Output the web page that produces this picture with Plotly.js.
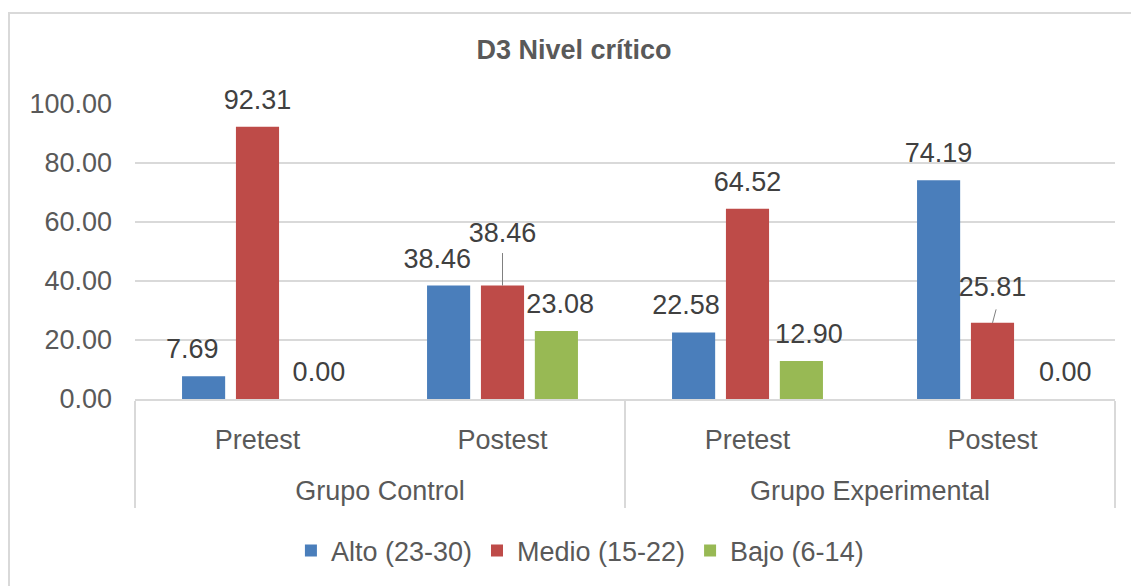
<!DOCTYPE html>
<html>
<head>
<meta charset="utf-8">
<script src="https://cdn.plot.ly/plotly-3.0.1.min.js"></script>
<style>
  html, body { margin: 0; padding: 0; width: 1131px; height: 586px; overflow: hidden; background: #fff; }
  #chart { position: absolute; left: 0; top: 0; width: 1131px; height: 586px; }
  #frame { position: absolute; left: 8px; top: 12px; width: 2000px; height: 2000px; border: 2px solid #d9d9d9; pointer-events: none; }
</style>
</head>
<body>
<div id="chart"></div>
<div id="frame"></div>
<script>
// ---- data ----
const groups = ['Grupo Control', 'Grupo Control', 'Grupo Experimental', 'Grupo Experimental'];
const phases = ['Pretest', 'Postest', 'Pretest', 'Postest'];
const seriesNames = ['Alto (23-30)', 'Medio (15-22)', 'Bajo (6-14)'];
const alto  = [7.69, 38.46, 22.58, 74.19];
const medio = [92.31, 38.46, 64.52, 25.81];
const bajo  = [0.00, 23.08, 12.90, 0.00];
const yTicks = [0, 20, 40, 60, 80, 100];

// ---- style ----
const colors = ['#4a7ebb', '#be4b48', '#98b954'];
const FONT = 'Liberation Sans, Arial, sans-serif';
const NB = '\u00a0';
// label template: value in 27px, optional padding spaces (horizontal nudge) and blank lines (vertical gap)
function tpl(lead, trail, blankLines) {
  let s = '<span style="font-size:27px">' + NB.repeat(lead) + '%{y:.2f}' + NB.repeat(trail) + '</span>';
  for (let i = 0; i < blankLines; i++) s += '<br>' + NB;
  return s;
}
const altoTpl  = [tpl(0, 3, 1), tpl(0, 3, 1), tpl(0, 2, 1), tpl(0, 0, 1)];
const medioTpl = [tpl(0, 0, 1), tpl(0, 0, 3), tpl(0, 0, 1), tpl(0, 0, 1)];
const bajoTpl  = [tpl(2, 0, 1), tpl(1, 0, 1), tpl(2, 0, 1), tpl(5, 0, 1)];
const medioTextSize = [10, 10, 10, 16];
// first-level tick labels carry an empty second line so the group row sits lower
const phaseLabels = phases.map(p => p + '<br>' + NB);

function barTrace(name, values, color, templates, textSize) {
  return {
    type: 'bar',
    name: name,
    x: [groups, phaseLabels],
    y: values,
    marker: { color: color, line: { width: 0 } },
    texttemplate: templates,
    textposition: 'outside',
    textfont: { family: FONT, size: textSize, color: '#404040' },
    constraintext: 'none',
    cliponaxis: false,
    hoverinfo: 'y+name'
  };
}

const data = [
  barTrace(seriesNames[0], alto, colors[0], altoTpl, 10),
  barTrace(seriesNames[1], medio, colors[1], medioTpl, medioTextSize),
  barTrace(seriesNames[2], bajo, colors[2], bajoTpl, 10)
];

// leader lines for the two displaced "Medio" labels (middle bar = category centre)
const leader = { xref: 'x', yref: 'y', text: '', showarrow: true, arrowhead: 0, arrowwidth: 1,
                 arrowcolor: '#808080', axref: 'pixel', ayref: 'pixel', standoff: 0, startstandoff: 0 };
const annotations = [
  Object.assign({}, leader, { x: 1, y: medio[1], ax: 0, ay: -34 }),
  Object.assign({}, leader, { x: 3, y: medio[3], ax: 4, ay: -15 })
];

const layout = {
  width: 1131,
  height: 586,
  margin: { l: 135, r: 16, t: 104, b: 186 },
  paper_bgcolor: 'rgba(0,0,0,0)',
  plot_bgcolor: 'rgba(0,0,0,0)',
  font: { family: FONT, color: '#595959' },
  title: {
    text: 'D3 Nivel crítico',
    font: { family: FONT, size: 27, weight: 'bold', color: '#595959' },
    x: 0.5075, xref: 'container', xanchor: 'center',
    y: 0.915, yref: 'container', yanchor: 'middle'
  },
  barmode: 'group',
  bargap: 0.34,
  bargroupgap: 0.2,
  xaxis: {
    type: 'multicategory',
    showline: true,
    linecolor: '#d9d9d9',
    linewidth: 2,
    ticks: '',
    showgrid: false,
    showdividers: true,
    dividercolor: '#d9d9d9',
    dividerwidth: 2,
    tickfont: { family: FONT, size: 27, color: '#595959' },
    ticklabelstandoff: 16
  },
  yaxis: {
    range: [0, 100],
    tickvals: yTicks,
    tickformat: '.2f',
    showgrid: true,
    gridcolor: '#d9d9d9',
    gridwidth: 2,
    zeroline: false,
    showline: false,
    ticks: '',
    tickfont: { family: FONT, size: 27, color: '#595959' },
    ticklabelstandoff: 22,
    fixedrange: true
  },
  annotations: annotations,
  showlegend: true,
  legend: {
    orientation: 'h',
    x: 0.454, xanchor: 'center',
    y: -0.51, yanchor: 'middle',
    font: { family: FONT, size: 27, color: '#595959' },
    itemwidth: 30,
    traceorder: 'normal'
  }
};

Plotly.newPlot('chart', data, layout, { displayModeBar: false, staticPlot: true });
</script>
</body>
</html>
